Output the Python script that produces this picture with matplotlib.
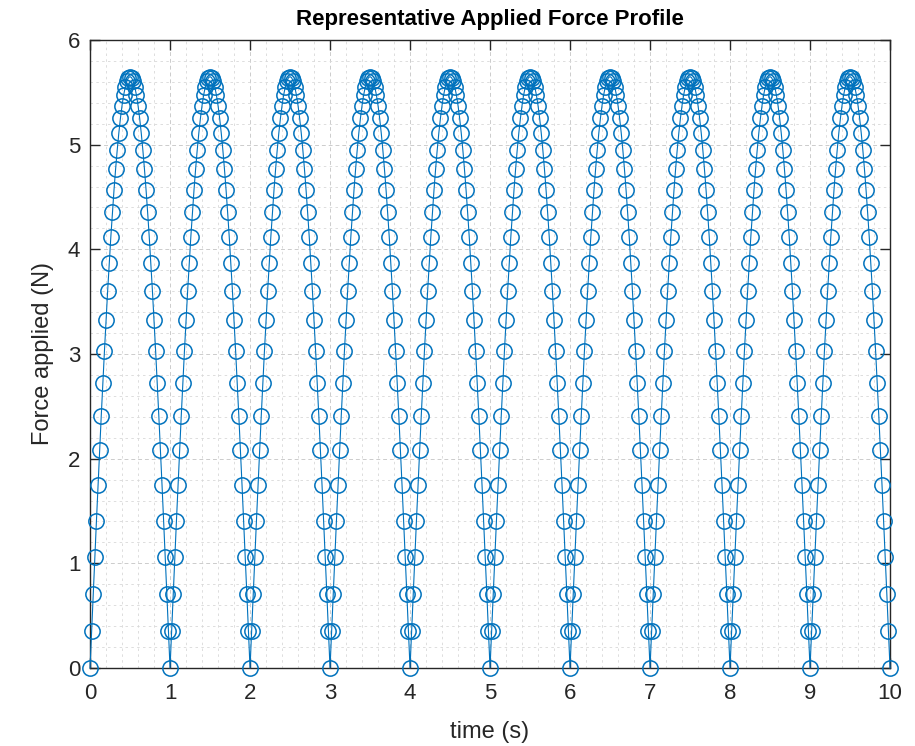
import numpy as np
import matplotlib
matplotlib.use("Agg")
import matplotlib.pyplot as plt
from matplotlib.ticker import MultipleLocator

plt.rcParams['font.family'] = ['Liberation Sans', 'DejaVu Sans']

force_cycle = [0.000, 0.355, 0.708, 1.059, 1.405, 1.746, 2.080, 2.406, 2.722, 3.027,
               3.321, 3.601, 3.867, 4.119, 4.353, 4.571, 4.770, 4.951, 5.112, 5.253,
               5.374, 5.473, 5.550, 5.605, 5.639, 5.650, 5.639, 5.605, 5.550, 5.473,
               5.374, 5.253, 5.112, 4.951, 4.770, 4.571, 4.353, 4.119, 3.867, 3.601,
               3.321, 3.027, 2.722, 2.406, 2.080, 1.746, 1.405, 1.059, 0.708, 0.355]
n_cycles = 10
force = force_cycle * n_cycles + [0.000]
sample_step = 0.02
time = [round(i * sample_step, 2) for i in range(len(force))]

x_ticks = list(range(0, 11))
y_ticks = list(range(0, 7))

fig = plt.figure(figsize=(9.15, 7.46), dpi=100)
ax = fig.add_axes([0.0984, 0.1046, 0.8743, 0.8418])

blue = '#0072BD'
ax.plot(time, force, '-o', color=blue, linewidth=0.8, markersize=11,
        markerfacecolor='none', markeredgewidth=1.1, zorder=3, clip_on=False)

ax.set_xlim(0, 10)
ax.set_ylim(0, 6)
ax.set_xticks(x_ticks)
ax.set_yticks(y_ticks)
ax.xaxis.set_minor_locator(MultipleLocator(0.2))
ax.yaxis.set_minor_locator(MultipleLocator(0.2))

ax.grid(True, which='major', color='#cccccc', linestyle=(0, (4, 3)), linewidth=0.7)
ax.grid(True, which='minor', color='#d8d8d8', linestyle=(0, (3, 4)), linewidth=0.6)
ax.set_axisbelow(True)

ax.tick_params(which='major', direction='in', length=7, width=1.0, top=True, right=True,
               labelsize=16, colors='#262626')
ax.tick_params(axis='x', which='major', pad=11)
ax.tick_params(axis='y', which='major', pad=7)
ax.tick_params(which='minor', length=0, top=True, right=True)
for s in ax.spines.values():
    s.set_color('#262626')
    s.set_linewidth(1.0)

ax.set_xlabel('time (s)', fontsize=17, color='#262626', labelpad=12)
ax.set_ylabel('Force applied (N)', fontsize=17, color='#262626', labelpad=10)
ax.set_title('Representative Applied Force Profile', fontsize=16, fontweight='bold',
             color='black', pad=11)

fig.savefig('out.png', dpi=100)
